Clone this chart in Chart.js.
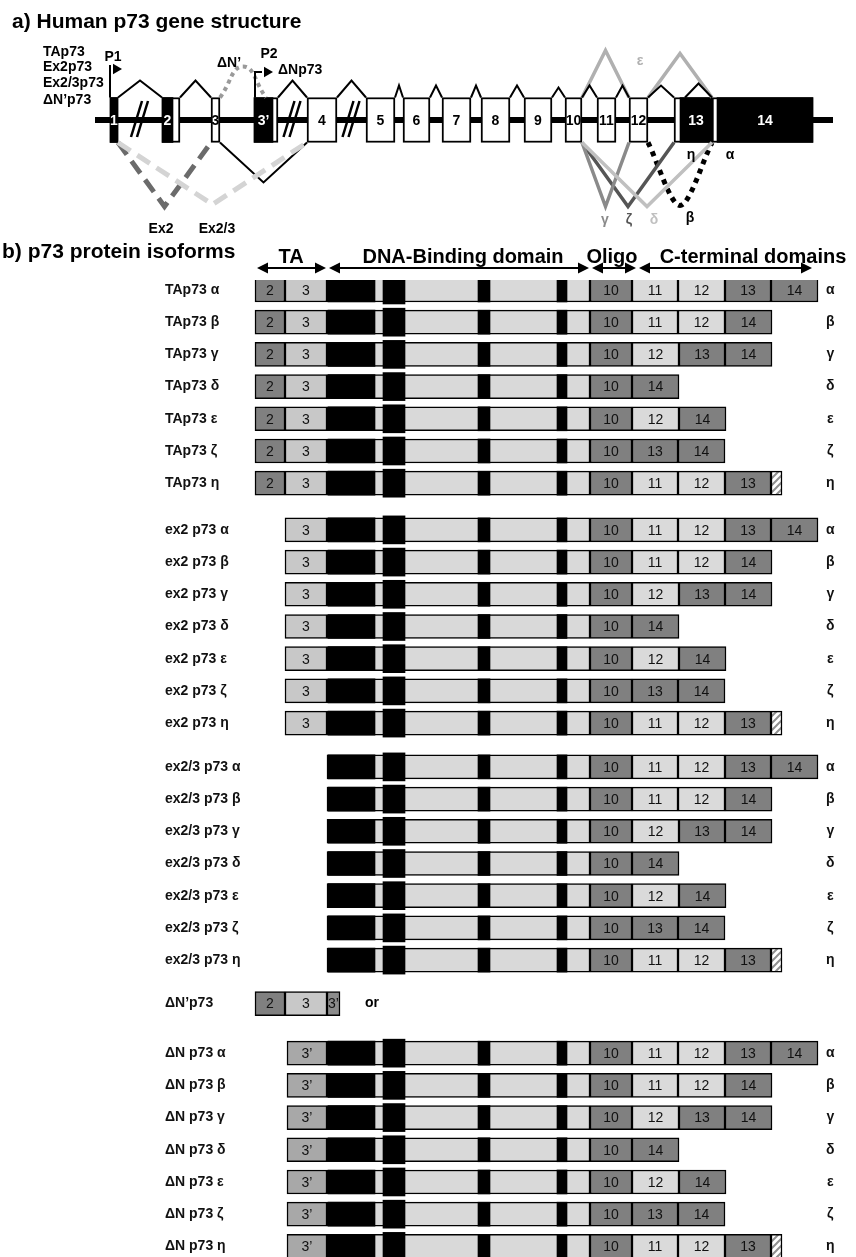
<!DOCTYPE html>
<html>
<head>
<meta charset="utf-8">
<title>p73 gene structure and protein isoforms</title>
<script src="https://cdn.jsdelivr.net/npm/chart.js@4.4.1/dist/chart.umd.min.js"></script>
<style>
  html, body { margin: 0; padding: 0; background: #fff; }
  canvas { display: block; }
</style>
</head>
<body>
<canvas id="gene" width="856" height="235"></canvas>
<canvas id="isoforms" width="856" height="1022"></canvas>
<script>
'use strict';

const FONT = "'Liberation Sans', Arial, sans-serif";

/* ---------- a) gene structure data (diagram units along the gene) ---------- */
const geneSpan = [95, 833];
const exonNames = ['1', '2', '3', '3’', '4', '5', '6', '7', '8', '9', '10', '11', '12', '13', '14'];
const exonStart = [110, 162, 211, 254, 307, 366, 403, 442, 481, 524, 565, 597, 629, 674, 712];
const exonEnd   = [118, 180, 220, 278, 337, 395, 430, 471, 510, 552, 582, 616, 648, 712, 813];
// untranslated (black) parts of exons
const utrStart = [110, 162, 254, 680, 717];
const utrEnd   = [118, 173, 273, 712, 813];
// height of the intron hat after each exon (null: none drawn)
const intronPeak = [17, 17, null, 17, 17, 12, 12, 12, 12, 10, 12, 12, 12, null];
const longIntrons = [0, 3, 4];           // drawn with //
const extraHat = [685, 712, 14];         // alternative donor inside exon 13
// alternative splicing: donor exon -> acceptor exon, depth below (+) / above (-)
const spliceNames    = ['Ex2/3', 'Ex2', 'TA', 'ΔN’', 'δ', 'γ', 'ζ', 'β', 'ε1', 'ε2'];
const spliceDonor    = [0, 0, 2, 2, 10, 10, 10, 12, 10, 12];
const spliceAcceptor = [4, 2, 4, 3, 14, 12, 13, 14, 12, 14];
const spliceDepth    = [62, 64, 40, -31, 64, 64, 64, 63, -47, -44];

/* ---------- b) protein isoform data ---------- */
const groupNames = ['TAp73', 'ex2 p73', 'ex2/3 p73', 'ΔN p73'];
const groupNTerm = [['2', '3'], ['3'], [], ['3’']];
const variantNames = ['α', 'β', 'γ', 'δ', 'ε', 'ζ', 'η'];
const variantCTerm = [
  ['10', '11', '12', '13', '14'],
  ['10', '11', '12', '14'],
  ['10', '12', '13', '14'],
  ['10', '14'],
  ['10', '12', '14'],
  ['10', '13', '14'],
  ['10', '11', '12', '13', 'η-tail']
];
const dNprimeExons = ['2', '3', '3’ part'];
const proteinExonLength = { '2': 30, '3': 42, '3’': 40, '3’ part': 13, '10': 42, '11': 46, '12': 47, '13': 46, '14': 47, 'η-tail': 11 };
const dbdSpan = [327, 590];
const dbdMotifStart = [328, 383, 478, 557];
const dbdMotifEnd   = [375, 405, 490, 567];
const domainNames = ['TA', 'DNA-Binding domain', 'Oligo', 'C-terminal domains'];
const domainStart = [255, 327, 590, 637];
const domainEnd   = [327, 590, 637, 813];

/* ---------- styles / layout ---------- */
const BOX = 22.5;  // half height of an exon box (y units)
const spliceStyle = {
  'Ex2/3': { color: '#d4d4d4', width: 5, dash: [15, 8] },
  'Ex2':   { color: '#6b6b6b', width: 5, dash: [15, 8] },
  'TA':    { color: '#000', width: 2 },
  'ΔN’':   { color: '#9a9a9a', width: 4, dash: [4, 4], tension: 0.5, shift: 12 },
  'δ':     { color: '#c0c0c0', width: 3.5 },
  'γ':     { color: '#8a8a8a', width: 3.5 },
  'ζ':     { color: '#555', width: 3.5 },
  'β':     { color: '#000', width: 5, dash: [5, 5], tension: 0.3 },
  'ε1':    { color: '#b0b0b0', width: 3.5 },
  'ε2':    { color: '#b0b0b0', width: 3.5 }
};

function line(points, color, width, extra) {
  return Object.assign({
    type: 'line', data: points, borderColor: color, borderWidth: width,
    pointRadius: 0, fill: false, tension: 0, borderCapStyle: 'butt', order: 5
  }, extra || {});
}

const geneDatasets = [];
geneDatasets.push(line([{ x: geneSpan[0], y: 0 }, { x: geneSpan[1], y: 0 }], '#000', 6, { order: 30 }));
geneDatasets.push({
  type: 'bar', indexAxis: 'y', grouped: false, order: 20,
  data: exonNames.map((n, i) => ({ y: 0, x: [exonStart[i], exonEnd[i]] })),
  backgroundColor: '#fff', borderColor: '#000', borderWidth: 2, borderSkipped: false, barThickness: 45
});
geneDatasets.push({
  type: 'bar', indexAxis: 'y', grouped: false, order: 19,
  data: utrStart.map((s, i) => ({ y: 0, x: [s, utrEnd[i]] })),
  backgroundColor: '#000', borderWidth: 0, barThickness: 45
});
intronPeak.forEach((h, i) => {
  if (h === null) return;
  const a = exonEnd[i], b = exonStart[i + 1];
  geneDatasets.push(line([{ x: a, y: BOX }, { x: (a + b) / 2, y: BOX + h }, { x: b, y: BOX }], '#000', 2));
});
geneDatasets.push(line([{ x: extraHat[0], y: BOX }, { x: (extraHat[0] + extraHat[1]) / 2, y: BOX + extraHat[2] },
  { x: extraHat[1], y: BOX }], '#000', 2));
longIntrons.forEach(i => {
  const c = (exonEnd[i] + exonStart[i + 1]) / 2;
  [0, 6].forEach(k => {
    geneDatasets.push(line([{ x: c - 9 + k, y: -17 }, { x: c + 2 + k, y: 19 }], '#000', 2.5, { order: 4 }));
  });
});
spliceNames.forEach((name, i) => {
  const st = spliceStyle[name];
  const d = spliceDepth[i];
  const edge = d > 0 ? -BOX : BOX;
  const x0 = exonEnd[spliceDonor[i]];
  const x1 = exonStart[spliceAcceptor[i]] + (st.shift || 0);
  geneDatasets.push(line([{ x: x0, y: edge }, { x: (x0 + x1) / 2, y: edge - d }, { x: x1, y: edge }],
    st.color, st.width, { borderDash: st.dash || [], tension: st.tension || 0, order: 6 + i }));
});
// promoters P1 and P2
const p1 = exonStart[0], p2 = exonStart[3] + 1;
geneDatasets.push(line([{ x: p1, y: BOX }, { x: p1, y: 55 }], '#000', 2, { order: 3 }));
geneDatasets.push(line([{ x: p2, y: BOX }, { x: p2, y: 48 }, { x: p2 + 7, y: 48 }], '#000', 2, { order: 3 }));
geneDatasets.push(line([{ x: p1 + 6, y: 51 }, { x: p2 + 12, y: 48 }], '#000', 0, {
  showLine: false, pointRadius: 6, pointStyle: 'triangle', rotation: 90,
  pointBackgroundColor: '#000', pointBorderWidth: 0, order: 2
}));

const geneTexts = [
  ['TAp73', 43, 68, 'left', '#000'], ['Ex2p73', 43, 53, 'left', '#000'],
  ['Ex2/3p73', 43, 37, 'left', '#000'], ['ΔN’p73', 43, 20, 'left', '#000'],
  ['P1', 113, 63, 'center', '#000'], ['P2', 269, 66, 'center', '#000'],
  ['ΔN’', 229, 57, 'center', '#000'], ['ΔNp73', 278, 50, 'left', '#000'],
  ['Ex2', 161, -109, 'center', '#000'], ['Ex2/3', 217, -109, 'center', '#000'],
  ['ε', 640, 59, 'center', '#b0b0b0'], ['γ', 605, -100, 'center', '#8a8a8a'],
  ['ζ', 629, -100, 'center', '#555'], ['δ', 654, -100, 'center', '#c0c0c0'],
  ['β', 690, -98, 'center', '#000'], ['η', 691, -35, 'center', '#000'], ['α', 730, -35, 'center', '#000']
];

const geneLabels = {
  id: 'geneLabels',
  afterDatasetsDraw(chart) {
    const { ctx, scales: { x, y } } = chart;
    ctx.save();
    ctx.textBaseline = 'middle';
    ctx.font = 'bold 21px ' + FONT;
    ctx.fillStyle = '#000';
    ctx.textAlign = 'left';
    ctx.fillText('a) Human p73 gene structure', 12, 22);
    ctx.font = 'bold 14px ' + FONT;
    exonNames.forEach((n, i) => {
      const u = utrStart.findIndex(s => s >= exonStart[i] && s < exonEnd[i]);
      const cx = u >= 0 ? (utrStart[u] + utrEnd[u]) / 2 : (exonStart[i] + exonEnd[i]) / 2;
      ctx.fillStyle = u >= 0 ? '#fff' : '#000';
      ctx.textAlign = 'center';
      ctx.fillText(n, x.getPixelForValue(cx), y.getPixelForValue(0) + 1);
    });
    geneTexts.forEach(([t, tx, ty, al, col]) => {
      ctx.fillStyle = col;
      ctx.textAlign = al;
      ctx.fillText(t, x.getPixelForValue(tx), y.getPixelForValue(ty));
    });
    ctx.restore();
  }
};

new Chart(document.getElementById('gene'), {
  type: 'bar',
  data: { datasets: geneDatasets },
  options: {
    responsive: false, animation: false, events: [],
    layout: { padding: 0, autoPadding: false },
    plugins: { legend: { display: false }, tooltip: { enabled: false } },
    scales: {
      x: { type: 'linear', min: 0, max: 856, offset: false, display: false },
      y: { type: 'linear', min: -115, max: 120, offset: false, display: false }
    }
  },
  plugins: [geneLabels]
});

/* ---------- b) isoform rows ---------- */
const GROUP_GAP = [1.45, 1.36, 1.35, 1.54];
const rows = [];
let pos = 0;
groupNames.forEach((group, gi) => {
  if (gi === groupNames.length - 1) {
    pos += GROUP_GAP[gi - 1];
    rows.push({ label: 'ΔN’p73', variant: '', pos, nTerm: dNprimeExons, cTerm: [], dbd: false });
    pos += GROUP_GAP[gi];
  } else if (gi > 0) {
    pos += GROUP_GAP[gi - 1];
  }
  variantNames.forEach((v, vi) => {
    if (vi > 0) pos += 1;
    rows.push({ label: group + ' ' + v, variant: v, pos, nTerm: groupNTerm[gi], cTerm: variantCTerm[vi], dbd: true });
  });
});

const hatch = (() => {
  const c = document.createElement('canvas');
  c.width = 7; c.height = 7;
  const g = c.getContext('2d');
  g.fillStyle = '#fff';
  g.fillRect(0, 0, 7, 7);
  g.strokeStyle = '#8f8f8f';
  g.lineWidth = 2;
  g.beginPath();
  g.moveTo(-1, 8); g.lineTo(8, -1);
  g.moveTo(-4, 4); g.lineTo(4, -4);
  g.moveTo(3, 11); g.lineTo(11, 3);
  g.stroke();
  return g.createPattern(c, 'repeat');
})();

const exonKeys = ['2', '3', '3’', '3’ part', '10', '11', '12', '13', '14', 'η-tail'];
const exonFill = {
  '2': '#808080', '3': '#c8c8c8', '3’': '#a8a8a8', '3’ part': '#8c8c8c', '10': '#808080',
  '11': '#dadada', '12': '#dadada', '13': '#808080', '14': '#808080', 'η-tail': hatch
};
const exonText = { '3’ part': '3’', 'η-tail': '' };
const exonData = {};
exonKeys.forEach(k => { exonData[k] = []; });

rows.forEach(r => {
  let x = dbdSpan[0] - r.nTerm.filter(k => k !== '3’ part').reduce((s, k) => s + proteinExonLength[k], 0);
  r.nTerm.forEach(k => {
    exonData[k].push({ y: r.pos, x: [x, x + proteinExonLength[k]] });
    x += proteinExonLength[k];
  });
  x = dbdSpan[1];
  r.cTerm.forEach(k => {
    exonData[k].push({ y: r.pos, x: [x, x + proteinExonLength[k]] });
    x += proteinExonLength[k];
  });
});

const dbdRows = rows.filter(r => r.dbd);
const isoDatasets = [{
  data: dbdRows.map(r => ({ y: r.pos, x: dbdSpan })),
  backgroundColor: '#d9d9d9', borderColor: '#000', borderWidth: 1.5, barThickness: 24, order: 3
}];
dbdMotifStart.forEach((s, i) => {
  isoDatasets.push({
    data: dbdRows.map(r => ({ y: r.pos, x: [s, dbdMotifEnd[i]] })),
    backgroundColor: '#000', borderWidth: 0, barThickness: i === 1 ? 28 : 24, order: 1
  });
});
exonKeys.forEach(k => {
  isoDatasets.push({
    data: exonData[k], exonText: k in exonText ? exonText[k] : k,
    backgroundColor: exonFill[k], borderColor: '#000', borderWidth: 1.5, barThickness: 24, order: 2
  });
});

function arrowHead(ctx, x, y, dir) {
  ctx.beginPath();
  ctx.moveTo(x, y);
  ctx.lineTo(x - dir * 11, y - 5.5);
  ctx.lineTo(x - dir * 11, y + 5.5);
  ctx.closePath();
  ctx.fill();
}

const HEADER_LABEL_X = [291, 463, 612, 753];
const isoLabels = {
  id: 'isoLabels',
  afterDatasetsDraw(chart) {
    const { ctx, chartArea, scales: { x, y } } = chart;
    ctx.save();
    ctx.font = '14px ' + FONT;
    ctx.fillStyle = '#111';
    ctx.textAlign = 'center';
    ctx.textBaseline = 'middle';
    chart.data.datasets.forEach((ds, i) => {
      if (!ds.exonText) return;
      chart.getDatasetMeta(i).data.forEach(bar => {
        ctx.fillText(ds.exonText, (bar.x + bar.base) / 2, bar.y + 1);
      });
    });
    // "or" after ΔN'p73
    const dnp = rows.find(r => !r.dbd);
    ctx.font = 'bold 14px ' + FONT;
    ctx.fillStyle = '#000';
    ctx.fillText('or', x.getPixelForValue(372), y.getPixelForValue(dnp.pos));

    // header
    ctx.textBaseline = 'alphabetic';
    ctx.textAlign = 'left';
    ctx.font = 'bold 21px ' + FONT;
    ctx.fillText('b) p73 protein isoforms', 2, 23);
    const ay = chartArea.top - 12;
    ctx.font = 'bold 20px ' + FONT;
    ctx.textAlign = 'center';
    ctx.lineWidth = 2;
    ctx.strokeStyle = '#000';
    domainNames.forEach((d, i) => {
      const a = x.getPixelForValue(domainStart[i]) + 2, b = x.getPixelForValue(domainEnd[i]) - 1;
      ctx.fillText(d, x.getPixelForValue(HEADER_LABEL_X[i]), ay - 5);
      ctx.beginPath();
      ctx.moveTo(a + 6, ay);
      ctx.lineTo(b - 6, ay);
      ctx.stroke();
      arrowHead(ctx, a, ay, -1);
      arrowHead(ctx, b, ay, 1);
    });
    ctx.restore();
  }
};

const rowTicks = axis => { axis.ticks = rows.map(r => ({ value: r.pos })); };
const noPad = w => s => { s.width = w; s.paddingTop = 0; s.paddingBottom = 0; };
const yMin = -0.31, yMax = 30.03;

new Chart(document.getElementById('isoforms'), {
  type: 'bar',
  data: { datasets: isoDatasets },
  options: {
    indexAxis: 'y',
    responsive: false, animation: false, events: [],
    layout: { padding: { top: 45, left: 165, right: 0, bottom: 0 }, autoPadding: false },
    datasets: { bar: { grouped: false, borderSkipped: false } },
    plugins: { legend: { display: false }, tooltip: { enabled: false } },
    scales: {
      x: { type: 'linear', min: 240, max: 826, offset: false, display: false },
      y: {
        type: 'linear', position: 'left', min: yMin, max: yMax, reverse: true, offset: false,
        afterBuildTicks: rowTicks, afterFit: noPad(75),
        grid: { display: false, drawTicks: false, offset: false }, border: { display: false },
        ticks: {
          autoSkip: false, crossAlign: 'far', padding: 0, color: '#111',
          font: { family: FONT, size: 14, weight: 'bold' },
          callback: (v, i) => rows[i].label
        }
      },
      y2: {
        type: 'linear', position: 'right', min: yMin, max: yMax, reverse: true, offset: false,
        afterBuildTicks: rowTicks, afterFit: noPad(30),
        grid: { display: false, drawTicks: false, offset: false }, border: { display: false },
        ticks: {
          autoSkip: false, crossAlign: 'center', padding: 0, color: '#111',
          font: { family: FONT, size: 14, weight: 'bold' },
          callback: (v, i) => rows[i].variant
        }
      }
    }
  },
  plugins: [isoLabels]
});
</script>
</body>
</html>
